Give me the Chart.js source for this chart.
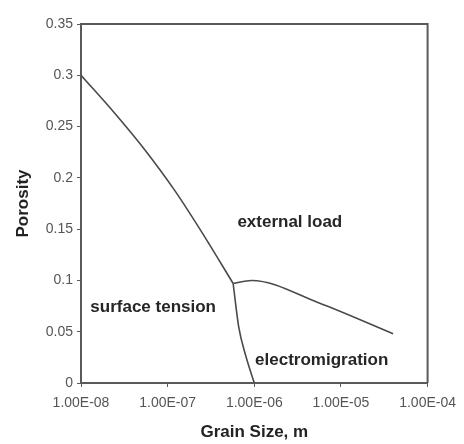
<!DOCTYPE html>
<html>
<head>
<meta charset="utf-8">
<script src="https://cdn.jsdelivr.net/npm/chart.js@4"></script>
<style>
html,body{margin:0;padding:0;background:#fff;}
#wrap{width:464px;height:444px;}
</style>
</head>
<body>
<div id="wrap"><canvas id="c" width="464" height="444"></canvas></div>
<script>
// Boundary curves (grain size in m, porosity)
const surfaceExternalX = [1e-8, 2.45e-8, 5.5e-8, 1.2e-7, 2.7e-7, 5.7e-7];
const surfaceExternalY = [0.300, 0.263, 0.227, 0.188, 0.142, 0.097];
const externalElectroX = [5.7e-7, 9.3e-7, 5.6e-6, 4.0e-5];
const externalElectroY = [0.097, 0.100, 0.078, 0.048];
const electroSurfaceX = [5.7e-7, 6.6e-7, 8.0e-7, 1.0e-6];
const electroSurfaceY = [0.097, 0.055, 0.026, 0.0];

const xTicks = [1e-8, 1e-7, 1e-6, 1e-5, 1e-4];
const regionLabels = ["external load", "surface tension", "electromigration"];
const regionLabelX = [2.57e-6, 6.8e-8, 6.0e-6];
const regionLabelY = [0.157, 0.074, 0.0225];

const pts = (xs, ys) => xs.map((x, i) => ({x, y: ys[i]}));
const lineColor = '#4a4a4a';
const axisColor = '#5a5a5a';
const FONT = '"Liberation Sans", Arial, sans-serif';

function fmtExp(v) {
  const e = Math.round(Math.log10(v));
  const m = v / Math.pow(10, e);
  const sign = e < 0 ? '-' : '+';
  const ae = Math.abs(e);
  return m.toFixed(2) + 'E' + sign + (ae < 10 ? '0' : '') + ae;
}

const frame = {
  id: 'frame',
  afterDatasetsDraw(chart) {
    const {ctx, chartArea: a} = chart;
    ctx.save();
    ctx.strokeStyle = axisColor;
    ctx.lineWidth = 2;
    ctx.beginPath();
    ctx.moveTo(a.left, a.top);
    ctx.lineTo(a.right, a.top);
    ctx.lineTo(a.right, a.bottom);
    ctx.stroke();
    ctx.restore();
  }
};

const regionText = {
  id: 'regionText',
  afterDatasetsDraw(chart) {
    const {ctx, scales} = chart;
    ctx.save();
    ctx.font = 'bold 17px ' + FONT;
    ctx.fillStyle = '#262626';
    ctx.textAlign = 'center';
    ctx.textBaseline = 'middle';
    regionLabels.forEach((t, i) => {
      ctx.fillText(t, scales.x.getPixelForValue(regionLabelX[i]), scales.y.getPixelForValue(regionLabelY[i]));
    });
    ctx.restore();
  }
};

const ds = (data) => ({
  data, showLine: true, borderColor: lineColor, borderWidth: 1.6,
  pointRadius: 0, fill: false, tension: 0.3, cubicInterpolationMode: 'monotone'
});

new Chart(document.getElementById('c'), {
  type: 'scatter',
  data: {
    datasets: [
      ds(pts(surfaceExternalX, surfaceExternalY)),
      ds(pts(externalElectroX, externalElectroY)),
      ds(pts(electroSurfaceX, electroSurfaceY))
    ]
  },
  options: {
    responsive: false,
    animation: false,
    layout: {padding: {top: 24, right: 36, left: 0, bottom: 0}},
    plugins: {legend: {display: false}, tooltip: {enabled: false}},
    scales: {
      x: {
        type: 'logarithmic', min: 1e-8, max: 1e-4,
        afterBuildTicks(s) { s.ticks = xTicks.map(v => ({value: v})); },
        afterFit(s) { s.height = 61; },
        border: {color: axisColor, width: 2},
        grid: {drawOnChartArea: false, tickLength: 4, color: axisColor},
        ticks: {
          callback: (v) => fmtExp(v), maxRotation: 0, autoSkip: false, padding: 8,
          color: '#555555', font: {family: FONT, size: 14}
        },
        title: {display: true, text: 'Grain Size, m', color: '#222',
          padding: {top: 0, bottom: 1},
          font: {family: FONT, size: 17, weight: 'bold'}}
      },
      y: {
        min: 0, max: 0.35,
        afterFit(s) { s.width = 81; },
        border: {color: axisColor, width: 2},
        grid: {drawOnChartArea: false, tickLength: 4, color: axisColor},
        ticks: {
          stepSize: 0.05, padding: 4,
          callback: (v) => String(Number(v.toFixed(2))),
          color: '#555555', font: {family: FONT, size: 14}
        },
        title: {display: true, text: 'Porosity', color: '#222',
          padding: {top: 13, bottom: 0},
          font: {family: FONT, size: 17, weight: 'bold'}}
      }
    }
  },
  plugins: [frame, regionText]
});
</script>
</body>
</html>
